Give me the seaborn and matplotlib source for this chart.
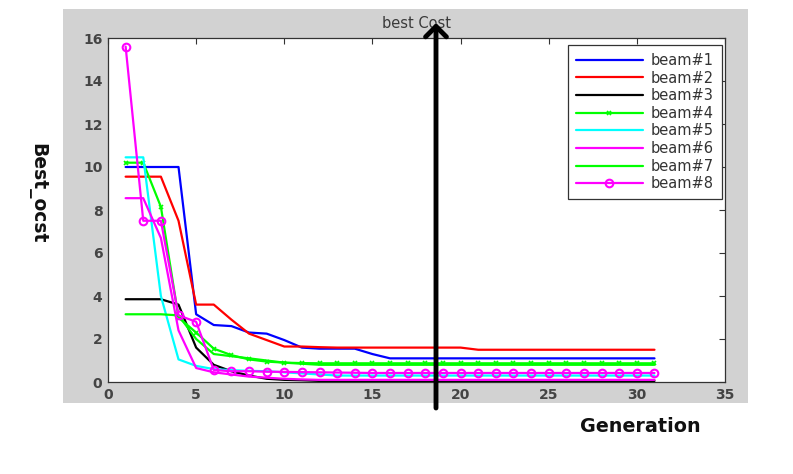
import numpy as np
import pandas as pd
import matplotlib
matplotlib.use("Agg")
import matplotlib.pyplot as plt
import seaborn as sns
from matplotlib.patches import Rectangle

generations = list(range(1, 32))
beam1 = [10, 10, 10, 10, 3.15, 2.65, 2.6, 2.3, 2.25, 1.95, 1.6, 1.55, 1.55, 1.55, 1.3, 1.1] + [1.1] * 15
beam2 = [9.55, 9.55, 9.55, 7.5, 3.6, 3.6, 2.9, 2.25, 1.95, 1.65, 1.65, 1.62] + [1.6] * 8 + [1.5] * 11
beam3 = [3.85, 3.85, 3.85, 3.6, 1.6, 0.8, 0.5, 0.3, 0.15, 0.1, 0.08] + [0.05] * 20
beam4 = [10.2, 10.2, 8.15, 3.0, 2.3, 1.55, 1.25, 1.05, 0.95, 0.9, 0.88] + [0.87] * 20
beam5 = [10.45, 10.45, 4.0, 1.05, 0.75, 0.6, 0.55, 0.52, 0.5, 0.45, 0.4, 0.35] + [0.3] * 19
beam6 = [8.55, 8.55, 6.7, 2.4, 0.65, 0.45, 0.35, 0.25, 0.2, 0.15, 0.12] + [0.1] * 20
beam7 = [3.15, 3.15, 3.15, 3.1, 2.0, 1.3, 1.2, 1.1, 1.0, 0.9, 0.85] + [0.8] * 20
beam8 = [15.6, 7.5, 7.5, 3.1, 2.8, 0.56, 0.5, 0.5, 0.48, 0.47, 0.46, 0.45, 0.44, 0.43] + [0.42] * 17

labels = ["beam#1", "beam#2", "beam#3", "beam#4", "beam#5", "beam#6", "beam#7", "beam#8"]
series = [beam1, beam2, beam3, beam4, beam5, beam6, beam7, beam8]
colors = ["#0000ff", "#ff0000", "#000000", "#00ff00", "#00ffff", "#ff00ff", "#00ff00", "#ff00ff"]
markers = [None, None, None, "x", None, None, None, "o"]

sns.set_style("white")
plt.rcParams["font.family"] = ["DejaVu Sans"]

fig = plt.figure(figsize=(7.93, 4.74), dpi=100)
W, H = 793, 474
# gray MATLAB-like panel
panel = Rectangle((63 / W, 1 - 403 / H), (748 - 63) / W, (403 - 9) / H,
                  transform=fig.transFigure, facecolor="#d2d2d2",
                  edgecolor="none", zorder=-10)
fig.add_artist(panel)

ax = fig.add_axes([108 / W, 1 - 382 / H, (725 - 108) / W, (382 - 38) / H])
ax.set_facecolor("white")

for lab, vals, col, mk in zip(labels, series, colors, markers):
    df = pd.DataFrame({"Generation": generations, "cost": vals})
    kw = {}
    if mk == "o":
        kw = dict(marker="o", markersize=5.5, markerfacecolor="none",
                  markeredgecolor=col, markeredgewidth=1.5)
    elif mk == "x":
        kw = dict(marker="x", markersize=3.5, markeredgewidth=1.2, markeredgecolor=col)
    sns.lineplot(data=df, x="Generation", y="cost", ax=ax, color=col, linewidth=1.6,
                 label=lab, **kw)

ax.set_xlim(0, 35)
ax.set_ylim(0, 16)
ax.set_xticks(range(0, 36, 5))
ax.set_yticks(range(0, 17, 2))
ax.set_xlabel("")
ax.set_ylabel("")
ax.tick_params(axis="both", direction="in", length=4, width=0.8, colors="#333333",
               labelsize=10, top=True, right=True, pad=4)
for lab in ax.get_xticklabels() + ax.get_yticklabels():
    lab.set_fontweight("bold")
    lab.set_color("#444444")
for sp in ax.spines.values():
    sp.set_color("#333333")
    sp.set_linewidth(0.9)
    sp.set_visible(True)

ax.set_title("best Cost", fontsize=10.5, color="#3a3a3a", pad=7)

leg = ax.legend(loc="upper right", bbox_to_anchor=(0.995, 0.98), fontsize=10.5,
                handlelength=4.6, labelspacing=0.18, borderpad=0.55, handletextpad=0.55,
                borderaxespad=0, frameon=True, fancybox=False, framealpha=1,
                edgecolor="#333333")
leg.get_frame().set_linewidth(0.9)
for t in leg.get_texts():
    t.set_color("#333333")

# big arrow
arrow = ax.annotate("", xy=(436 / W, 1 - 23 / H), xytext=(436 / W, 1 - 408 / H),
                    xycoords="figure fraction", textcoords="figure fraction",
                    arrowprops=dict(arrowstyle="->,head_length=0.75,head_width=0.75",
                                    color="black", lw=3.5, shrinkA=0, shrinkB=0),
                    annotation_clip=False, zorder=10)

fig.text(37 / W, 1 - 193 / H, "Best_ocst", rotation=-90, ha="center", va="center",
         fontsize=13.5, fontweight="bold", color="#111111")
fig.text(640 / W, 1 - 427 / H, "Generation", ha="center", va="center",
         fontsize=13.8, fontweight="bold", color="#111111")

fig.savefig("out.png", dpi=100, facecolor="white")
